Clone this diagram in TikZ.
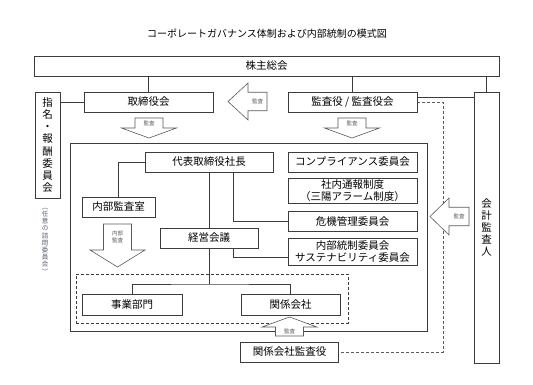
\documentclass[tikz,border=0pt]{standalone}
\usepackage{fontspec}
\setmainfont{Noto Sans CJK JP}
\usetikzlibrary{calc}
\definecolor{boxline}{HTML}{3C3C3C}
\definecolor{arrowline}{HTML}{5A5A5A}
\definecolor{notegray}{HTML}{5A6072}
\tikzset{
  orgbox/.style={draw=boxline, line width=0.8pt, fill=white, inner sep=0pt,
    minimum height=20pt, font=\fontsize{10.5}{12}\selectfont, align=center},
  vbox/.style={orgbox, minimum width=25pt, font=\fontsize{10.5}{12.2}\selectfont},
  link/.style={draw=boxline, line width=0.7pt},
  auditlink/.style={draw=arrowline, line width=0.7pt, dash pattern=on 3pt off 2pt},
  blockarrow/.style={draw=arrowline, line width=0.6pt, fill=white},
  arrowlabel/.style={font=\fontsize{5.5}{6.5}\selectfont, text=arrowline,
    inner sep=0pt, align=center},
}
% block arrows: name, x, top, head, tip, label
\newcommand{\arrowdown}[6]{%
  \draw[blockarrow] ({#2-14},#3) -- ({#2+14},#3) -- ({#2+14},#4) -- ({#2+27.5},#4)
    -- (#2,#5) -- ({#2-27.5},#4) -- ({#2-14},#4) -- cycle;
  \node[arrowlabel] (#1) at (#2,{(#3+#4)/2}) {#6};%
}
% name, x, tip, head, bottom, label
\newcommand{\arrowup}[6]{%
  \draw[blockarrow] ({#2-14},#5) -- ({#2+14},#5) -- ({#2+14},#4) -- ({#2+27.5},#4)
    -- (#2,#3) -- ({#2-27.5},#4) -- ({#2-14},#4) -- cycle;
  \node[arrowlabel] (#1) at (#2,{(#4+#5)/2}) {#6};%
}
% name, tip x, y, head x, tail x, label
\newcommand{\arrowleft}[6]{%
  \draw[blockarrow] (#2,#3) -- (#4,{#3-18.5}) -- (#4,{#3-9.25}) -- (#5,{#3-9.25})
    -- (#5,{#3+9.25}) -- (#4,{#3+9.25}) -- (#4,{#3+18.5}) -- cycle;
  \node[arrowlabel] (#1) at ({(#4+#5)/2},#3) {#6};%
}

\begin{document}
\begin{tikzpicture}[x=1pt, y=-1pt]
  \useasboundingbox[fill=white] (0,0) rectangle (533,384);

  \node[font=\fontsize{10}{12}\selectfont] (title) at (267,34)
    {コーポレートガバナンス体制および内部統制の模式図};

  % top level
  \node[orgbox, minimum width=465pt] (kabunushi) at (266.5,66) {株主総会};
  \node[orgbox, minimum width=129pt] (torishimari) at (148.5,102) {取締役会};
  \node[orgbox, minimum width=129pt] (kansayaku) at (352.5,102) {監査役 / 監査役会};
  \node[vbox, minimum height=106pt] (shimei) at (47.5,145)
    {指\\名\\・\\報\\酬\\委\\員\\会};
  \node[text=notegray, inner sep=0pt, align=center,
    font=\fontsize{6.5}{7.2}\selectfont] (nini) at (45,241)
    {︵\\任\\意\\の\\諮\\問\\委\\員\\会\\︶};
  \node[vbox, minimum height=271pt] (kaikei) at (486.5,227.5)
    {会\\計\\監\\査\\人};

  \draw[link] (torishimari.north) -- (torishimari.north |- kabunushi.south);
  \draw[link] (kansayaku.north) -- (kansayaku.north |- kabunushi.south);
  \draw[link] (kaikei.north) -- (kaikei.north |- kabunushi.south);
  \draw[link] (torishimari.west) -- (torishimari.west -| shimei.east);
  \coordinate (kansaout) at ($(kansayaku.north east)!0.3!(kansayaku.south east)$);
  \draw[link] (kansaout) -- (kansaout -| kaikei.west);

  % company frame
  \node[orgbox, fill=none, minimum width=357pt, minimum height=188pt] (company) at (248.5,237) {};
  \node[orgbox, minimum width=128pt] (daihyo) at (209,162) {代表取締役社長};
  \node[orgbox, minimum width=73pt] (naibukansa) at (118.5,207) {内部監査室};
  \node[orgbox, minimum width=98pt] (keiei) at (209,238) {経営会議};
  \node[orgbox, minimum width=129pt] (compliance) at (352.5,162) {コンプライアンス委員会};
  \node[orgbox, minimum width=129pt, minimum height=25pt, font=\fontsize{10.5}{11.5}\selectfont]
    (tsuho) at (352.5,190.5) {社内通報制度\\（三陽アラーム制度）};
  \node[orgbox, minimum width=129pt] (kiki) at (352.5,221) {危機管理委員会};
  \node[orgbox, minimum width=129pt, minimum height=27pt, font=\fontsize{10.5}{11.5}\selectfont]
    (naibutosei) at (352.5,251.5) {内部統制委員会\\サステナビリティ委員会};

  % group companies
  \node[draw=boxline, line width=0.8pt, dash pattern=on 3pt off 2pt,
    minimum width=272pt, minimum height=49pt, inner sep=0pt] (group) at (212,298.5) {};
  \node[orgbox, minimum width=100pt, minimum height=21pt] (jigyo) at (132,304.5) {事業部門};
  \node[orgbox, minimum width=99pt, minimum height=21pt] (kankei) at (290.5,304.5) {関係会社};
  \node[orgbox, minimum width=98pt] (kankeikansa) at (289.5,352) {関係会社監査役};

  \draw[link] (daihyo.west) -| (naibukansa.north);
  \draw[link] (daihyo.south) -- (keiei.north);
  \draw[link] ([xshift=24pt]daihyo.south) |- (kiki.west);
  \draw[link] ([xshift=24pt]keiei.south) |- ([yshift=-5.5pt]naibutosei.west);
  \coordinate (branch) at (209,284);
  \draw[link] (keiei.south) -- (branch);
  \draw[link] (jigyo.north) |- (branch) -| (kankei.north);

  \coordinate (auditcorner) at (443,352);
  \draw[auditlink] (kansayaku.east) -| (auditcorner) -- (kankeikansa.east);

  % audit arrows
  \arrowleft{lbltop}{228}{101.5}{248}{267}{監査}
  \arrowdown{lblboard}{149}{118}{128}{138}{監査}
  \arrowdown{lblkansa}{352}{118}{128}{138}{監査}
  \arrowdown{lblinner}{117.5}{224}{250}{267}{内部\\監査}
  \arrowleft{lblkaikei}{430}{216.5}{449}{469}{監査}
  \arrowup{lblgroup}{289.5}{317}{327}{336}{監査}
\end{tikzpicture}
\end{document}
